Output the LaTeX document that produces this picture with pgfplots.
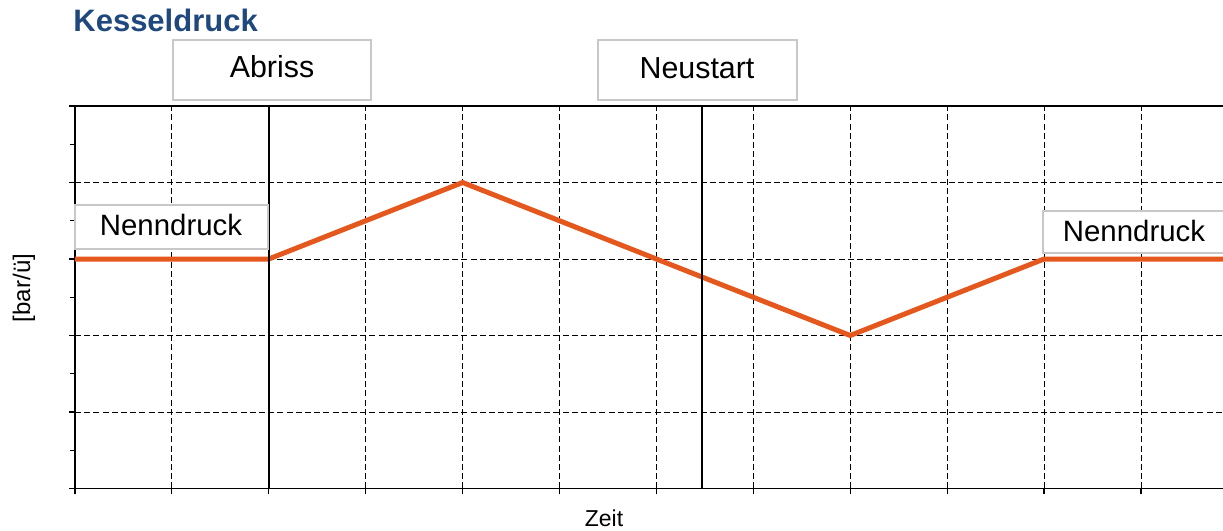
\documentclass[border=0pt]{standalone}
\usepackage{fontspec}
\setmainfont{Liberation Sans}
\usepackage{pgfplots}
\pgfplotsset{compat=1.18}
\definecolor{lineorange}{RGB}{228,88,30}
\definecolor{titleblue}{RGB}{31,73,125}
\definecolor{boxgray}{RGB}{200,200,200}
\begin{document}
\begin{tikzpicture}
\useasboundingbox (-37.5pt,-21.25pt) rectangle (574pt,244.25pt);
\begin{axis}[
  at={(0pt,0pt)}, anchor=south west,
  scale only axis,
  width=581.4pt, height=191.25pt,
  xmin=0, xmax=12, ymin=0, ymax=5,
  xtick={0,1,...,12}, ytick={0,1,...,5},
  minor y tick num=1,
  xticklabels={}, yticklabels={},
  tick align=outside,
  tick pos=left,
  major tick length=3pt, minor tick length=2.6pt,
  every tick/.style={black, line width=0.6pt},
  grid=major,
  major grid style={black, line width=0.4pt, dash pattern=on 3pt off 1.6pt},
  axis line style={black, line width=0.7pt},
  clip=false,
]
\addplot[lineorange, line width=2.5pt, line join=round] coordinates {(0,3) (2,3) (4,4) (8,2) (10,3) (12,3)};
\addplot[black, line width=1.25pt] coordinates {(2,0) (2,5)};
\addplot[black, line width=1.25pt] coordinates {(6.47,0) (6.47,5)};
\end{axis}
% title
\node[anchor=base west, inner sep=0pt, text=titleblue, font=\fontsize{15.5}{18}\selectfont\bfseries] at (-1pt,228.25pt) {Kesseldruck};
% boxes
\filldraw[fill=white, draw=boxgray, line width=0.7pt] (49pt,194.25pt) rectangle (148pt,224.25pt);
\node[anchor=base, inner sep=0pt, font=\fontsize{15.2}{17}\selectfont] at (98.5pt,205.25pt) {Abriss};
\filldraw[fill=white, draw=boxgray, line width=0.7pt] (261.5pt,194.25pt) rectangle (361pt,224.25pt);
\node[anchor=base, inner sep=0pt, font=\fontsize{15.2}{17}\selectfont] at (311pt,204.75pt) {Neustart};
\filldraw[fill=white, draw=boxgray, line width=0.7pt] (0pt,119.75pt) rectangle (96.5pt,141.75pt);
\node[anchor=base, inner sep=0pt, font=\fontsize{14.7}{17}\selectfont] at (48pt,126.4pt) {Nenndruck};
\filldraw[fill=white, draw=boxgray, line width=0.7pt] (484pt,117.75pt) rectangle (580pt,138.75pt);
\node[anchor=base, inner sep=0pt, font=\fontsize{14.7}{17}\selectfont] at (529.5pt,123.4pt) {Nenndruck};
% axis labels
\node[anchor=base, inner sep=0pt, font=\fontsize{11.5}{14}\selectfont] at (264.5pt,-19.25pt) {Zeit};
\node[rotate=90, inner sep=0pt, font=\fontsize{12}{14}\selectfont] at (-25.5pt,100.25pt) {[bar/ü]};
\end{tikzpicture}
\end{document}
